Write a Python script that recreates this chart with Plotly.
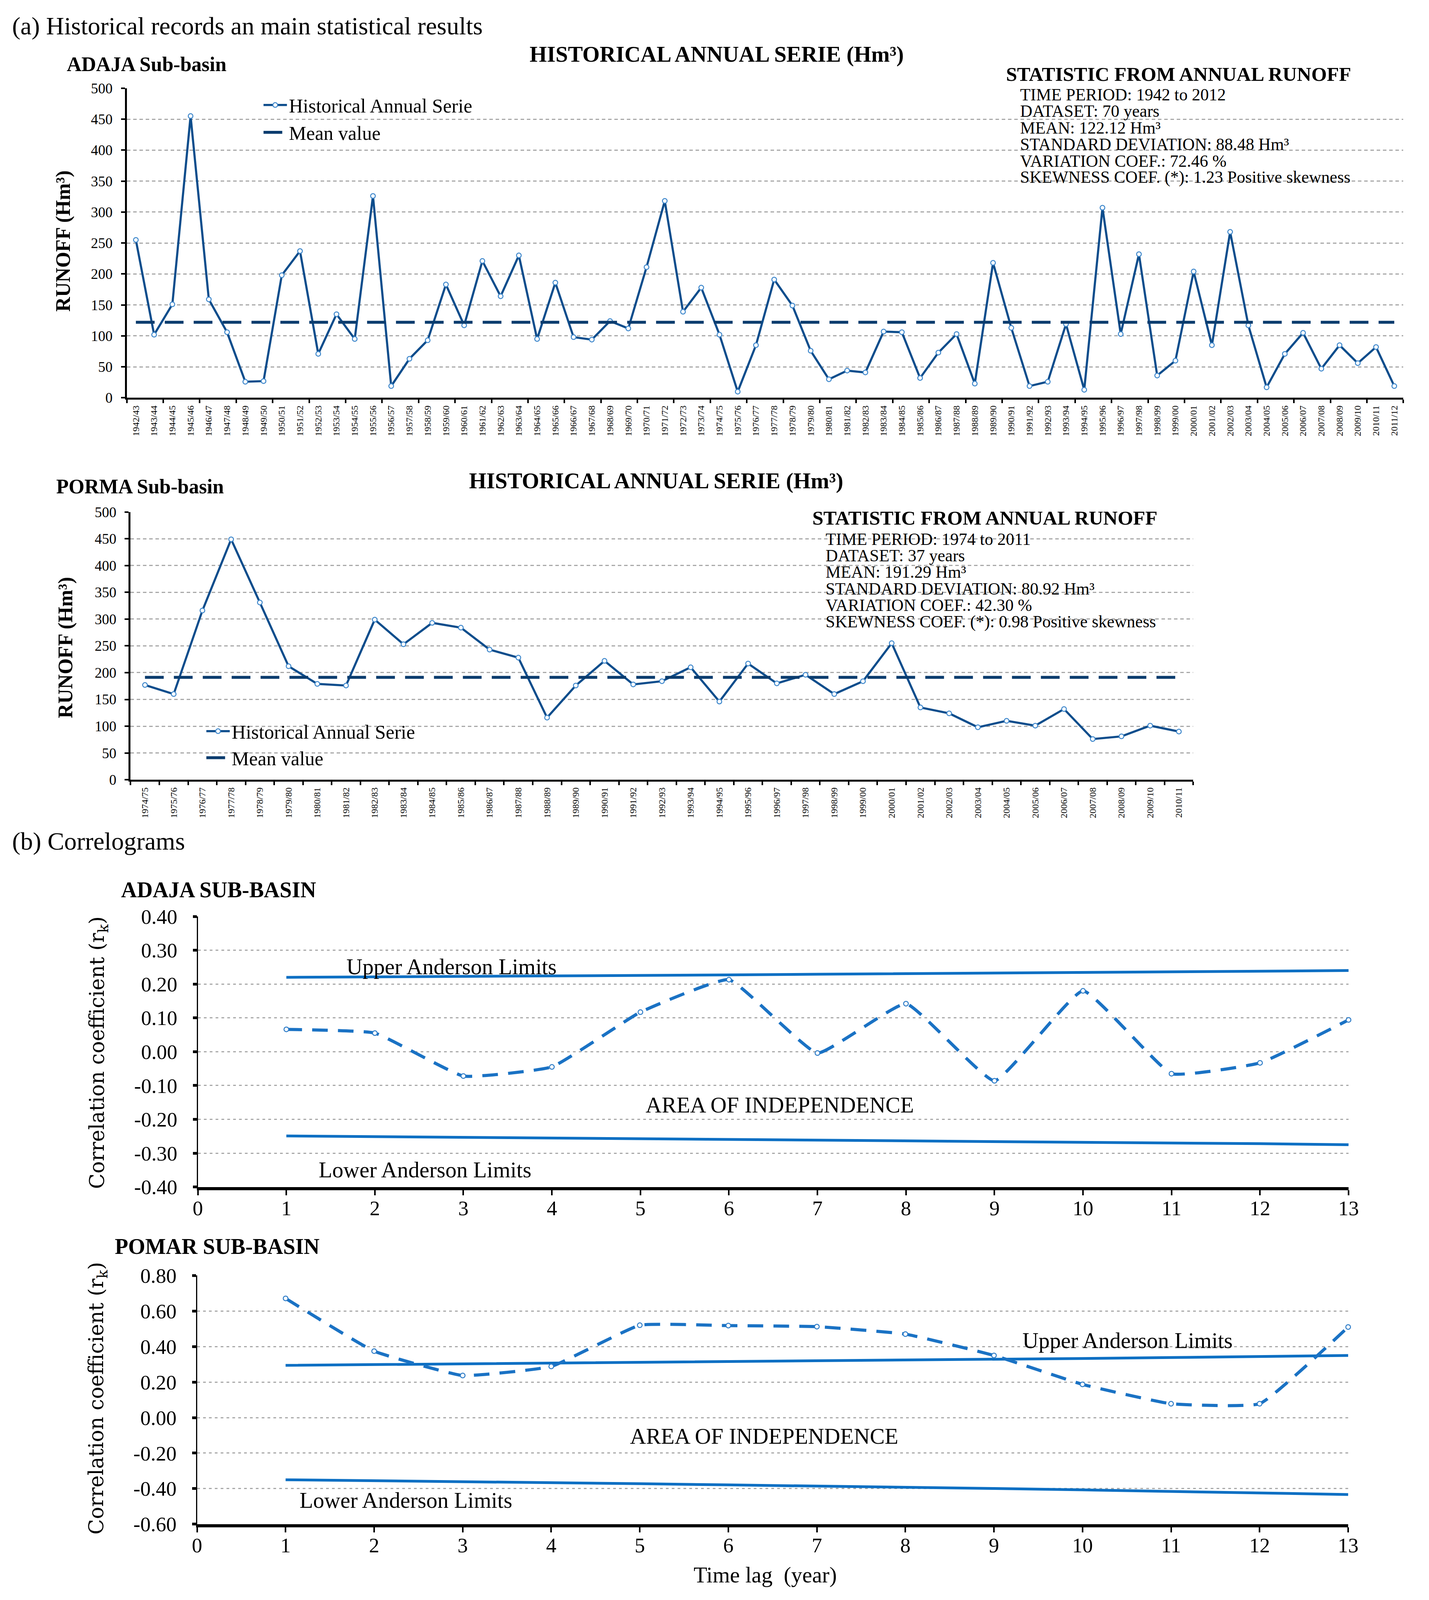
import plotly.graph_objects as go

# ---------------- DATA ----------------
adaja_years = ["1942/43","1943/44","1944/45","1945/46","1946/47","1947/48","1948/49","1949/50",
               "1950/51","1951/52","1952/53","1953/54","1954/55","1955/56","1956/57","1957/58",
               "1958/59","1959/60","1960/61","1961/62","1962/63","1963/64","1964/65","1965/66",
               "1966/67","1967/68","1968/69","1969/70","1970/71","1971/72","1972/73","1973/74",
               "1974/75","1975/76","1976/77","1977/78","1978/79","1979/80","1980/81","1981/82",
               "1982/83","1983/84","1984/85","1985/86","1986/87","1987/88","1988/89","1989/90",
               "1990/91","1991/92","1992/93","1993/94","1994/95","1995/96","1996/97","1997/98",
               "1998/99","1999/00","2000/01","2001/02","2002/03","2003/04","2004/05","2005/06",
               "2006/07","2007/08","2008/09","2009/10","2010/11","2011/12"]
adaja_runoff = [255, 102, 151, 455, 159, 106, 26, 27, 198, 237, 71, 135, 95, 326, 19, 63,
                93, 183, 117, 221, 164, 230, 95, 186, 98, 94, 124, 112, 211, 318, 139, 178,
                102, 10, 85, 191, 149, 76, 30, 44, 41, 107, 106, 32, 73, 103, 23, 218,
                113, 19, 26, 119, 13, 307, 103, 232, 36, 60, 204, 85, 268, 117, 17, 71,
                105, 47, 85, 56, 82, 19]
adaja_mean = 122.12

porma_years = ["1974/75","1975/76","1976/77","1977/78","1978/79","1979/80","1980/81","1981/82",
               "1982/83","1983/84","1984/85","1985/86","1986/87","1987/88","1988/89","1989/90",
               "1990/91","1991/92","1992/93","1993/94","1994/95","1995/96","1996/97","1997/98",
               "1998/99","1999/00","2000/01","2001/02","2002/03","2003/04","2004/05","2005/06",
               "2006/07","2007/08","2008/09","2009/10","2010/11"]
porma_runoff = [177, 160, 316, 449, 331, 212, 179, 176, 299, 253, 293, 284, 243, 228, 116, 176,
                222, 178, 184, 210, 146, 217, 180, 196, 160, 184, 255, 135, 124, 98, 110, 101,
                132, 76, 81, 101, 90]
porma_mean = 191.29

lags = [1, 2, 3, 4, 5, 6, 7, 8, 9, 10, 11, 12, 13]
adaja_rk = [0.066, 0.055, -0.072, -0.045, 0.117, 0.213, -0.004, 0.142, -0.086, 0.180, -0.065, -0.033, 0.094]
adaja_upper = [0.220, 0.221, 0.223, 0.224, 0.226, 0.227, 0.229, 0.231, 0.232, 0.234, 0.236, 0.238, 0.240]
adaja_lower = [-0.249, -0.251, -0.253, -0.255, -0.257, -0.259, -0.261, -0.263, -0.265, -0.268, -0.270, -0.272, -0.275]

pomar_rk = [0.671, 0.374, 0.237, 0.288, 0.520, 0.518, 0.512, 0.470, 0.350, 0.187, 0.078, 0.078, 0.510]
pomar_upper = [0.294, 0.298, 0.302, 0.306, 0.310, 0.314, 0.318, 0.323, 0.328, 0.333, 0.338, 0.344, 0.350]
pomar_lower = [-0.350, -0.355, -0.361, -0.366, -0.372, -0.379, -0.385, -0.392, -0.399, -0.407, -0.415, -0.424, -0.433]

adaja_corr_ticks = [-0.4, -0.3, -0.2, -0.1, 0.0, 0.1, 0.2, 0.3, 0.4]
pomar_corr_ticks = [-0.6, -0.4, -0.2, 0.0, 0.2, 0.4, 0.6, 0.8]

# ---------------- LAYOUT HELPERS ----------------
# Reference is 3659 x 5043; the visible browser viewport is 3659 x 4096,
# so the layout keeps the reference proportions in paper units and fits that height.
W, H_REF, H = 3659, 5043, 4096
def px(x):
    return x / W
def py(y):
    return 1 - y / H_REF

FONT = "Liberation Serif"
SERIES = "#0d4d8c"
MEAN = "#0b3c6e"
MK_LINE = "#3f88cc"
CBLUE = "#0b6fc3"
GRID = "#a9a9a9"

fig = go.Figure()

# ADAJA runoff
ax_idx = list(range(len(adaja_years)))
fig.add_trace(go.Scatter(x=ax_idx, y=adaja_runoff, mode="lines+markers", name="Historical Annual Serie",
                         line=dict(color=SERIES, width=5.5),
                         marker=dict(size=12, color="white", line=dict(color=MK_LINE, width=2.5)),
                         xaxis="x", yaxis="y", legend="legend", legendgroup="a1", cliponaxis=False))
fig.add_trace(go.Scatter(x=[ax_idx[0], ax_idx[-1]], y=[adaja_mean, adaja_mean], mode="lines", name="Mean value",
                         line=dict(color=MEAN, width=7.5, dash="48px,26px"),
                         xaxis="x", yaxis="y", legend="legend", legendgroup="a2"))

# PORMA runoff
po_idx = list(range(len(porma_years)))
fig.add_trace(go.Scatter(x=po_idx, y=porma_runoff, mode="lines+markers", name="Historical Annual Serie",
                         line=dict(color=SERIES, width=5.5),
                         marker=dict(size=12, color="white", line=dict(color=MK_LINE, width=2.5)),
                         xaxis="x2", yaxis="y2", legend="legend2", legendgroup="p1", cliponaxis=False))
fig.add_trace(go.Scatter(x=[po_idx[0], po_idx[-1]], y=[porma_mean, porma_mean], mode="lines", name="Mean value",
                         line=dict(color=MEAN, width=7.5, dash="48px,26px"),
                         xaxis="x2", yaxis="y2", legend="legend2", legendgroup="p2"))

# Correlograms
for (rk, up, lo, xa, ya) in [(adaja_rk, adaja_upper, adaja_lower, "x3", "y3"),
                              (pomar_rk, pomar_upper, pomar_lower, "x4", "y4")]:
    fig.add_trace(go.Scatter(x=lags, y=up, mode="lines", showlegend=False,
                             line=dict(color=CBLUE, width=7), xaxis=xa, yaxis=ya, cliponaxis=False))
    fig.add_trace(go.Scatter(x=lags, y=lo, mode="lines", showlegend=False,
                             line=dict(color=CBLUE, width=7), xaxis=xa, yaxis=ya, cliponaxis=False))
    fig.add_trace(go.Scatter(x=lags, y=rk, mode="lines+markers", showlegend=False,
                             line=dict(color="#1a72c4", width=8, dash="40px,26px", shape="spline", smoothing=0.35),
                             marker=dict(size=12, color="white", line=dict(color="#2f7dc8", width=2.5)),
                             xaxis=xa, yaxis=ya, cliponaxis=False))

tick_font_small = dict(family=FONT, size=24, color="black")
tick_font_y = dict(family=FONT, size=37, color="black")
corr_tick_font = dict(family=FONT, size=53, color="black")

def runoff_xaxis(domain, anchor, labels, minor_vals):
    return dict(domain=domain, anchor=anchor, range=[-0.5, len(labels) - 0.5],
                tickmode="array", tickvals=list(range(len(labels))), ticktext=labels,
                tickangle=-90, tickfont=tick_font_small, ticks="", ticklabelstandoff=5,
                showgrid=False, zeroline=False, showline=True, linecolor="black", linewidth=5,
                minor=dict(tickmode="array", tickvals=minor_vals, ticks="outside", ticklen=9,
                           tickwidth=4, tickcolor="black", showgrid=False))

def runoff_yaxis(domain, anchor):
    return dict(domain=domain, anchor=anchor, range=[0, 500], dtick=50, tick0=0,
                tickfont=tick_font_y, ticks="outside", ticklen=10, tickwidth=4, tickcolor="black",
                ticklabelstandoff=14,
                showgrid=True, gridcolor=GRID, gridwidth=3, griddash="9px,7px",
                zeroline=False, showline=True, linecolor="black", linewidth=5)

a_minor = [i - 0.5 for i in range(0, len(adaja_years) + 1, 2)]
p_minor = [i - 0.5 for i in range(0, len(porma_years) + 1)]

def corr_xaxis(domain, anchor):
    return dict(domain=domain, anchor=anchor, range=[0, 13], tickmode="array", tickvals=list(range(0, 14)),
                tickfont=corr_tick_font, ticks="outside", ticklen=13, tickwidth=4, tickcolor="black",
                ticklabelstandoff=-12, showgrid=False, zeroline=False,
                showline=True, linecolor="black", linewidth=8)

def corr_yaxis(domain, anchor, rng, tv):
    return dict(domain=domain, anchor=anchor, range=rng, tickmode="array", tickvals=tv,
                ticktext=[f"{v:.2f}" for v in tv], tickfont=corr_tick_font,
                ticks="outside", ticklen=10, tickwidth=7, tickcolor="black", ticklabelstandoff=29,
                showgrid=True, gridcolor=GRID, gridwidth=3, griddash="7px,8px",
                zeroline=False, showline=True, linecolor="black", linewidth=3)

fig.update_layout(
    width=W, height=H, margin=dict(l=0, r=0, t=0, b=0),
    paper_bgcolor="white", plot_bgcolor="white",
    font=dict(family=FONT, color="black"),
    xaxis=runoff_xaxis([px(315), px(3620)], "y", adaja_years, a_minor),
    yaxis=runoff_yaxis([py(1237), py(247)], "x"),
    xaxis2=runoff_xaxis([px(325), px(3076)], "y2", porma_years, p_minor),
    yaxis2=runoff_yaxis([py(2458), py(1602)], "x2"),
    xaxis3=corr_xaxis([px(499), px(3478)], "y3"),
    yaxis3=corr_yaxis([py(3760), py(2895)], "x3", [-0.4, 0.4], adaja_corr_ticks),
    xaxis4=corr_xaxis([px(497), px(3477)], "y4"),
    yaxis4=corr_yaxis([py(4838), py(4043)], "x4", [-0.6, 0.8], pomar_corr_ticks),
    legend=dict(x=px(664), y=py(252), xanchor="left", yanchor="top", bgcolor="rgba(0,0,0,0)",
                font=dict(family=FONT, size=50, color="black"), tracegroupgap=2, itemwidth=60),
    legend2=dict(x=px(516), y=py(2254), xanchor="left", yanchor="top", bgcolor="rgba(0,0,0,0)",
                 font=dict(family=FONT, size=50, color="black"), tracegroupgap=0, itemwidth=60),
)

# white boxes behind legend / statistics (interrupting gridlines as in the original)
for (x0, y0, x1, y1) in [(572, 262, 1370, 425), (2562, 170, 3659, 585),
                         (455, 2250, 1188, 2425), (2066, 1585, 3110, 1985)]:
    fig.add_shape(type="rect", xref="paper", yref="paper", x0=px(x0), x1=px(x1), y0=py(y1), y1=py(y0),
                  fillcolor="white", line=dict(width=0), layer="between")

ann = []
def text(x, y, s, size, xanchor="left", bold=False, angle=0, family=FONT):
    ann.append(dict(x=px(x), y=py(y), xref="paper", yref="paper", text=(f"<b>{s}</b>" if bold else s),
                    showarrow=False, xanchor=xanchor, yanchor="middle", textangle=angle,
                    font=dict(family=family, size=size, color="black")))

text(16, 48, "(a) Historical records an main statistical results", 64)
text(158, 170, "ADAJA Sub-basin", 52, bold=True)
text(1842, 139, "HISTORICAL ANNUAL SERIE (Hm³)", 57, xanchor="center", bold=True)
text(150, 735, "RUNOFF (Hm³)", 52, xanchor="center", bold=True, angle=-90)

text(2589, 202, "STATISTIC FROM ANNUAL RUNOFF", 51, bold=True)
for i, s in enumerate(["TIME PERIOD: 1942 to 2012", "DATASET: 70 years", "MEAN: 122.12 Hm³",
                       "STANDARD DEVIATION: 88.48 Hm³", "VARIATION COEF.: 72.46 %",
                       "SKEWNESS COEF. (*): 1.23 Positive skewness"]):
    text(2626, 267 + i * 53, s, 43.5)

text(130, 1520, "PORMA Sub-basin", 52, bold=True)
text(1685, 1502, "HISTORICAL ANNUAL SERIE (Hm³)", 57, xanchor="center", bold=True)
text(157, 2035, "RUNOFF (Hm³)", 52, xanchor="center", bold=True, angle=-90)

text(2088, 1621, "STATISTIC FROM ANNUAL RUNOFF", 51, bold=True)
for i, s in enumerate(["TIME PERIOD: 1974 to 2011", "DATASET: 37 years", "MEAN: 191.29 Hm³",
                       "STANDARD DEVIATION: 80.92 Hm³", "VARIATION COEF.: 42.30 %",
                       "SKEWNESS COEF. (*): 0.98 Positive skewness"]):
    text(2122, 1688 + i * 53, s, 43.5)

text(16, 2655, "(b) Correlograms", 64)
text(298, 2810, "ADAJA SUB-BASIN", 56, bold=True)
text(242, 3330, "Correlation coefficient (r<sub>k</sub>)", 52, xanchor="center", angle=-90, family="DejaVu Serif")
text(882, 3055, "Upper Anderson Limits", 57)
text(2005, 3498, "AREA OF INDEPENDENCE", 57, xanchor="center")
text(810, 3705, "Lower Anderson Limits", 57)

text(282, 3950, "POMAR SUB-BASIN", 56, bold=True)
text(240, 4435, "Correlation coefficient (r<sub>k</sub>)", 52, xanchor="center", angle=-90, family="DejaVu Serif")
text(2632, 4250, "Upper Anderson Limits", 57)
text(1965, 4556, "AREA OF INDEPENDENCE", 57, xanchor="center")
text(760, 4762, "Lower Anderson Limits", 57)
text(1968, 5000, "Time lag  (year)", 57, xanchor="center")

fig.update_layout(annotations=ann)

post = "document.body.style.margin='0';"
fig.write_html("out.html", post_script=post, config={"displayModeBar": False})
